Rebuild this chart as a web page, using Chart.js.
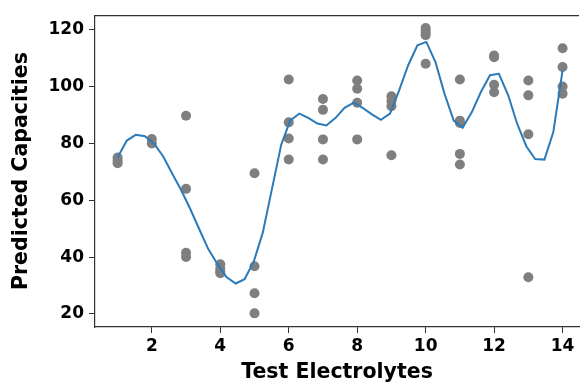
<!DOCTYPE html>
<html>
<head>
<meta charset="utf-8">
<script src="https://cdn.jsdelivr.net/npm/chart.js@4.4.0/dist/chart.umd.min.js"></script>
<style>
  html, body { margin: 0; padding: 0; background: #fff; }
  #wrap { width: 584px; height: 385px; }
</style>
</head>
<body>
<div id="wrap"><canvas id="capChart" width="584" height="385"></canvas></div>
<script>
// scatter: predicted capacities for each test electrolyte
const electrolyteX = [1, 2, 3, 4, 5, 6, 7, 8, 9, 10, 11, 12, 13, 14];
const predicted = [
    [75, 74, 73],
    [81.5, 80],
    [89.7, 64, 41.5, 40],
    [37.5, 36, 35, 34.3],
    [69.5, 36.8, 27.3, 20.2],
    [102.5, 87.4, 81.7, 74.3],
    [95.6, 91.8, 81.4, 74.3],
    [102.1, 99.2, 94.3, 81.4],
    [96.6, 94.9, 93.1, 75.8],
    [120.6, 119.7, 118.9, 118.1, 108],
    [102.5, 88, 87.2, 76.3, 72.6],
    [110.9, 110.3, 100.6, 98],
    [102.1, 96.9, 83.2, 32.9],
    [113.5, 106.9, 100, 97.5],
];

// smooth fitted curve
const curveX = [1.00, 1.27, 1.53, 1.80, 2.06, 2.33, 2.59, 2.86, 3.12, 3.39,
    3.65, 3.92, 4.18, 4.45, 4.71, 4.98, 5.24, 5.51, 5.78, 6.04,
    6.31, 6.57, 6.84, 7.10, 7.37, 7.63, 7.90, 8.16, 8.43, 8.69,
    8.96, 9.22, 9.49, 9.76, 10.02, 10.29, 10.55, 10.82, 11.08, 11.35,
    11.61, 11.88, 12.14, 12.41, 12.67, 12.94, 13.20, 13.47, 13.73, 14.00];
const curveY = [75, 81, 83, 82.5, 80, 75.5, 69.5, 63.5, 57, 49.7,
    42.8, 37.5, 33, 30.7, 32.2, 38.5, 48.5, 64, 79.5, 88,
    90.5, 89, 87, 86.3, 89, 92.5, 94.3, 92.5, 90.2, 88.3,
    90.5, 98.5, 107.5, 114.5, 115.7, 108.5, 97.5, 88, 85.5, 91,
    98, 104, 104.5, 97, 87, 79, 74.5, 74.3, 84, 105.7];

const xTicks = [2, 4, 6, 8, 10, 12, 14];
const yTicks = [20, 40, 60, 80, 100, 120];

const scatterPts = [];
electrolyteX.forEach((x, i) => predicted[i].forEach(v => scatterPts.push({ x: x, y: v })));
const curvePts = curveX.map((x, i) => ({ x: x, y: curveY[i] }));

const tickFont = { family: "'DejaVu Sans', sans-serif", size: 17, weight: "bold" };
const titleFont = { family: "'DejaVu Sans', sans-serif", size: 20.5, weight: "bold" };

// top spine
const frame = {
    id: "frame",
    afterDraw(chart) {
        const { ctx, chartArea: a } = chart;
        ctx.save();
        ctx.strokeStyle = "#333";
        ctx.lineWidth = 1.2;
        ctx.beginPath();
        ctx.moveTo(a.left, a.top + 0.5);
        ctx.lineTo(a.right, a.top + 0.5);
        ctx.stroke();
        ctx.restore();
    },
};

new Chart(document.getElementById("capChart").getContext("2d"), {
    type: "scatter",
    data: {
        datasets: [
            {
                type: "line",
                data: curvePts,
                borderColor: "#2b7bba",
                borderWidth: 2,
                pointRadius: 0,
                tension: 0,
                fill: false,
                order: 0,
            },
            {
                data: scatterPts,
                backgroundColor: "#7f7f7f",
                borderWidth: 0,
                pointRadius: 5,
                order: 1,
            },
        ],
    },
    options: {
        responsive: false,
        animation: false,
        layout: { padding: { top: 7, right: 0, left: 0, bottom: 0 } },
        plugins: {
            legend: { display: false },
            tooltip: { enabled: false },
        },
        scales: {
            x: {
                type: "linear",
                min: 0.34,
                max: 14.48,
                afterBuildTicks: s => { s.ticks = xTicks.map(v => ({ value: v })); },
                afterFit: s => { s.height = 58; },
                grid: { drawOnChartArea: false, drawTicks: true, tickLength: 6, color: "#333" },
                border: { display: true, color: "#333", width: 1.2 },
                ticks: { color: "#000", font: tickFont, padding: 3, maxRotation: 0 },
                title: { display: true, text: "Test Electrolytes", color: "#000", font: titleFont, padding: { top: 0, bottom: 0 } },
            },
            y: {
                min: 15.4,
                max: 125.1,
                afterBuildTicks: s => { s.ticks = yTicks.map(v => ({ value: v })); },
                afterFit: s => { s.width = 95; },
                grid: { drawOnChartArea: false, drawTicks: true, tickLength: 6, color: "#333" },
                border: { display: true, color: "#333", width: 1.2 },
                ticks: { color: "#000", font: tickFont, padding: 5 },
                title: { display: true, text: "Predicted Capacities", color: "#000", font: titleFont, padding: { top: 9.5, bottom: 0 } },
            },
        },
    },
    plugins: [frame],
});
</script>
</body>
</html>
